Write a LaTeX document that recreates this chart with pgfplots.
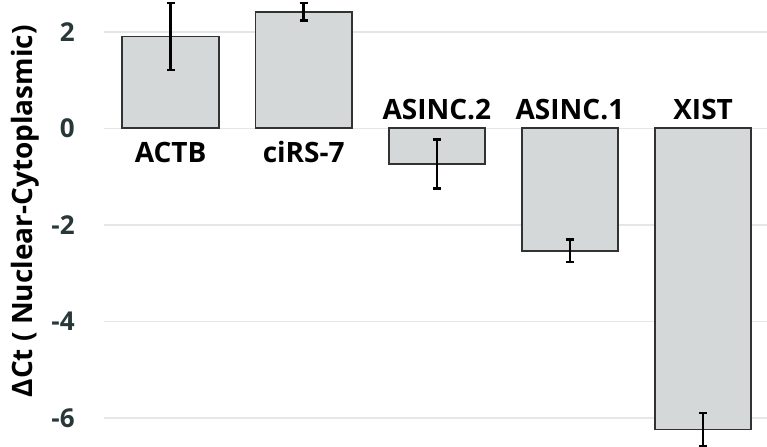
\documentclass[border=0pt]{standalone}
\usepackage{fontspec}
\setmainfont{Open Sans}
\usepackage{pgfplots}
\pgfplotsset{compat=1.18}
\definecolor{barfill}{RGB}{212,216,217}
\definecolor{baredge}{RGB}{50,50,50}
\definecolor{gridc}{RGB}{228,231,231}
\definecolor{tickc}{RGB}{40,56,56}
\begin{document}
\begin{tikzpicture}
\begin{axis}[
  scale only axis,
  width=331.5pt, height=223pt,
  xmin=-0.5, xmax=4.48,
  ymin=-6.58, ymax=2.66,
  axis line style={draw=none},
  xtick=\empty,
  ytick={-6,-4,-2,0,2},
  major tick length=0pt,
  ymajorgrids,
  major grid style={color=gridc, line width=0.7pt},
  /pgf/number format/assume math mode=true,
  yticklabel style={font=\fontsize{13}{15}\selectfont\bfseries, text=tickc, anchor=east, inner sep=0pt, xshift=-14.5pt},
  ylabel={ΔCt ( Nuclear-Cytoplasmic)},
  every axis y label/.style={at={(rel axis cs:0,0.526)}, rotate=90, anchor=base, yshift=35.5pt, font=\fontsize{14}{16}\selectfont\bfseries},
  clip=true,
]
\addplot[ybar, bar width=0.724, bar shift=0pt, fill=barfill, draw=baredge, line width=0.9pt,
  error bars/.cd, y dir=both, y explicit,
  error bar style={black, line width=1.3pt},
  error mark options={black, line width=1.3pt, mark size=2pt, rotate=90}]
  coordinates {
    (0, 1.905) +- (0, 0.695)
    (1, 2.415) +- (0, 0.185)
    (2, -0.735) +- (0, 0.505)
    (3, -2.535) +- (0, 0.235)
    (4, -6.24) +- (0, 0.34)
  };
\addplot[draw=none, mark=none, nodes near coords, point meta=explicit symbolic,
  every node near coord/.append style={anchor=base, yshift=-17.2pt, inner sep=0pt, font=\fontsize{14}{16}\selectfont\bfseries, text=black}]
  table[meta=lab] {
x y lab
0 0 ACTB
1 0 ciRS-7
};
\addplot[draw=none, mark=none, nodes near coords, point meta=explicit symbolic,
  every node near coord/.append style={anchor=base, yshift=4.5pt, inner sep=0pt, font=\fontsize{14}{16}\selectfont\bfseries, text=black}]
  table[meta=lab] {
x y lab
2 0 ASINC.2
3 0 ASINC.1
4 0 XIST
};
\end{axis}
\pgfresetboundingbox
\path[use as bounding box] ([xshift=-52pt]current axis.south west) rectangle (current axis.north east);
\end{tikzpicture}
\end{document}
